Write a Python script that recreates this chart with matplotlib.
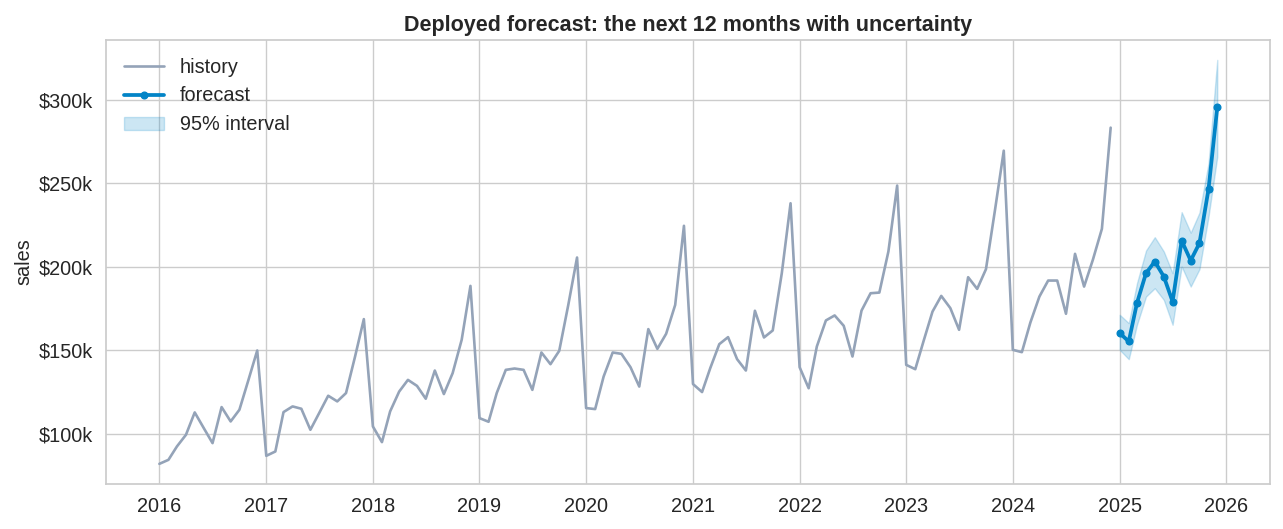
import matplotlib
matplotlib.use("Agg")
import matplotlib.pyplot as plt
import matplotlib.ticker as mticker
import pandas as pd
import seaborn as sns

# monthly sales history, in $k
history_k = [
    82.0, 84.4, 92.4, 99.4, 112.8, 103.4, 94.4, 116.0, 107.4, 114.4, 132.3, 149.9,
    86.8, 89.4, 113.0, 116.4, 115.0, 102.4, 112.4, 122.8, 119.4, 124.4, 146.3, 168.7,
    104.4, 95.0, 113.4, 125.3, 132.3, 128.7, 121.0, 137.9, 123.8, 136.3, 156.3, 188.6,
    109.4, 107.2, 124.4, 138.3, 139.1, 138.3, 126.3, 148.7, 141.7, 149.7, 177.2, 205.6,
    115.4, 114.8, 134.3, 148.7, 147.9, 139.9, 128.3, 162.7, 150.9, 159.9, 177.2, 224.6,
    129.8, 125.0, 139.3, 153.7, 157.9, 144.7, 137.9, 173.7, 157.7, 161.9, 196.2, 238.1,
    139.9, 127.3, 152.3, 167.9, 170.9, 164.7, 146.3, 173.8, 184.2, 184.6, 209.2, 248.7,
    141.3, 138.7, 155.3, 173.2, 182.6, 175.3, 162.3, 193.8, 186.8, 198.6, 234.1, 269.6,
    150.3, 148.9, 166.6, 182.2, 191.8, 191.8, 171.9, 207.8, 188.2, 204.2, 222.8, 283.4,
]
forecast_k = [160.3, 155.3, 178.3, 196.2, 203.2, 194.2, 179.2, 215.7, 203.8, 214.2, 246.5, 295.6]
lower_k = [150.3, 144.7, 165.3, 182.2, 187.2, 180.2, 165.3, 200.2, 188.2, 198.6, 230.1, 266.0]
upper_k = [171.3, 166.3, 190.2, 209.8, 217.8, 209.2, 196.2, 232.8, 220.5, 232.5, 262.0, 324.0]

hist_dates = pd.date_range("2016-01-01", periods=len(history_k), freq="MS")
fc_dates = pd.date_range("2025-01-01", periods=len(forecast_k), freq="MS")

sns.set_theme(style="whitegrid")
plt.rcParams["font.family"] = ["Liberation Sans", "DejaVu Sans"]

fig, ax = plt.subplots(figsize=(12.83, 5.29), dpi=100)

hist = [v * 1000 for v in history_k]
fc = [v * 1000 for v in forecast_k]
lo = [v * 1000 for v in lower_k]
hi = [v * 1000 for v in upper_k]

ax.plot(hist_dates, hist, color="#94a3b8", lw=1.9, label="history")
ax.plot(fc_dates, fc, color="#0284c7", lw=2.7, marker="o", ms=4.8, label="forecast")
ax.fill_between(fc_dates, lo, hi, color="#0284c7", alpha=0.2, label="95% interval")

ax.yaxis.set_major_formatter(mticker.FuncFormatter(lambda v, _: f"${v / 1000:.0f}k"))
ax.set_ylabel("sales", fontsize=14.3)
ax.set_title("Deployed forecast: the next 12 months with uncertainty",
             fontsize=15.5, fontweight="bold")
ax.tick_params(labelsize=14.3)
ax.legend(loc="upper left", fontsize=14.3, frameon=False)

fig.subplots_adjust(left=0.083, right=0.99, top=0.925, bottom=0.085)
fig.savefig("out.png", dpi=100)
